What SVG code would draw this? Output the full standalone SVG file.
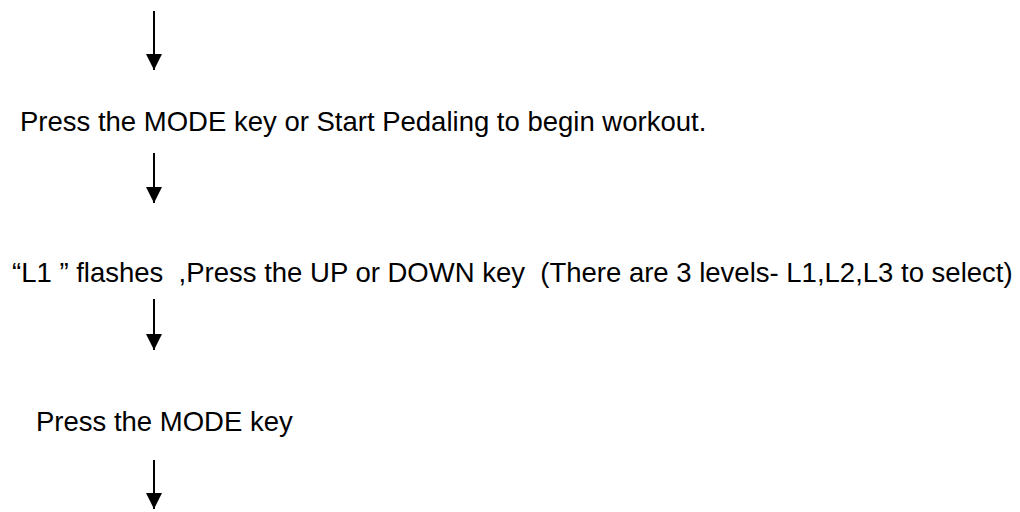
<svg xmlns="http://www.w3.org/2000/svg" width="1020" height="512" viewBox="0 0 1020 512">
<style>
.t{font-family:"Liberation Sans",Arial,sans-serif;font-size:27.5px;fill:#000;white-space:pre}
.c{stroke:#000;stroke-width:2;fill:none}
</style>
<defs>
<marker id="ah" viewBox="0 0 16 16" markerWidth="16" markerHeight="16" markerUnits="userSpaceOnUse" refX="16" refY="8" orient="auto">
<path d="M0,0 L16,8 L0,16 z" fill="#000"/>
</marker>
</defs>
<rect width="1020" height="512" fill="#fff"/>
<g id="connectors">
<line class="c" x1="154" y1="11" x2="154" y2="70" marker-end="url(#ah)"/>
<line class="c" x1="154" y1="153" x2="154" y2="203" marker-end="url(#ah)"/>
<line class="c" x1="154" y1="299" x2="154" y2="350" marker-end="url(#ah)"/>
<line class="c" x1="154" y1="460" x2="154" y2="509" marker-end="url(#ah)"/>
</g>
<g id="step1">
<text class="t" x="20" y="131">Press the MODE key or Start Pedaling to begin workout.</text>
</g>
<g id="step2">
<text class="t" x="12" y="282" xml:space="preserve">“L1 ” flashes  ,Press the UP or DOWN key  (There are 3 levels- L1,L2,L3 to select)</text>
</g>
<g id="step3">
<text class="t" x="36" y="431">Press the MODE key</text>
</g>
</svg>
